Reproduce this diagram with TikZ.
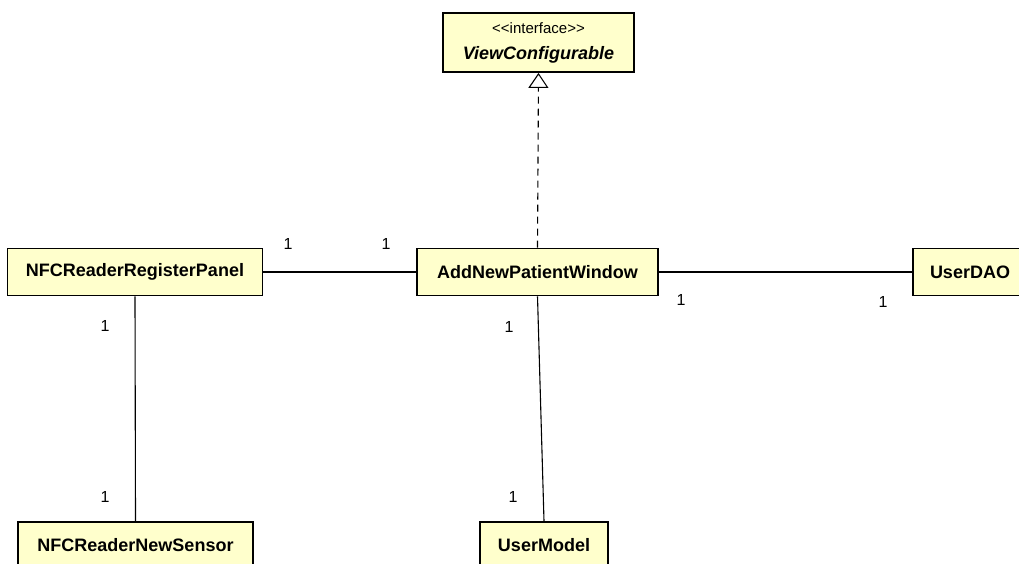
\documentclass[tikz,border=0pt]{standalone}
\usepackage{fontspec}
\setmainfont{Liberation Sans}
\usepackage{xcolor}
\usetikzlibrary{arrows, arrows.meta}
\usetikzlibrary{positioning}
\definecolor{umlfill}{RGB}{255,255,204}
\tikzset{
	umlclass/.style={draw, fill=umlfill, line width=1.8pt, minimum height=47pt, inner sep=0pt, font=\fontsize{18}{20}\selectfont\bfseries},
	mult/.style={font=\fontsize{16}{18}\selectfont, inner sep=0pt},
	assoc/.style={line width=1.1pt}
}

\begin{document}
\begin{tikzpicture}[x=1pt, y=-1pt]
			\useasboundingbox (0,0) rectangle (1019,564);
			\node[umlclass, minimum width=191pt, minimum height=59pt, align=center, font=\fontsize{15}{26}\selectfont] (iface) at (538.5,42.5) {{<}{<}interface{>}{>}\\{\fontsize{18}{20}\selectfont\bfseries\itshape ViewConfigurable}};
			\node[umlclass, minimum width=255pt] (regPanel) at (135,272) {NFCReaderRegisterPanel};
			\node[umlclass, minimum width=241pt] (addWindow) at (537.5,272) {AddNewPatientWindow};
			\node[umlclass, minimum width=114pt] (userDAO) at (970,272) {UserDAO};
			\node[umlclass, minimum width=235pt] (newSensor) at (135.5,545.5) {NFCReaderNewSensor};
			\node[umlclass, minimum width=128pt] (userModel) at (544,545.5) {UserModel};
			% associations
			\draw[assoc] (regPanel) -- (addWindow);
			\draw[assoc] (addWindow) -- (userDAO);
			\draw[assoc] (regPanel.south) -- (newSensor.north);
			\draw[assoc] (addWindow.south) -- (userModel.north);
			% realization
			\draw[assoc, dash pattern=on 7pt off 5pt, -{Triangle[open, length=15pt, width=20pt]}] (addWindow.north) -- (iface.south);
			% multiplicities
			\foreach \x/\y[count = \iMult] in {288/244, 386/244, 681/300, 883/302, 105/326, 105/497, 509/327, 513/497}
			{
				\node[mult] (m\iMult) at (\x,\y) {1};
			}
		\end{tikzpicture}
\end{document}
